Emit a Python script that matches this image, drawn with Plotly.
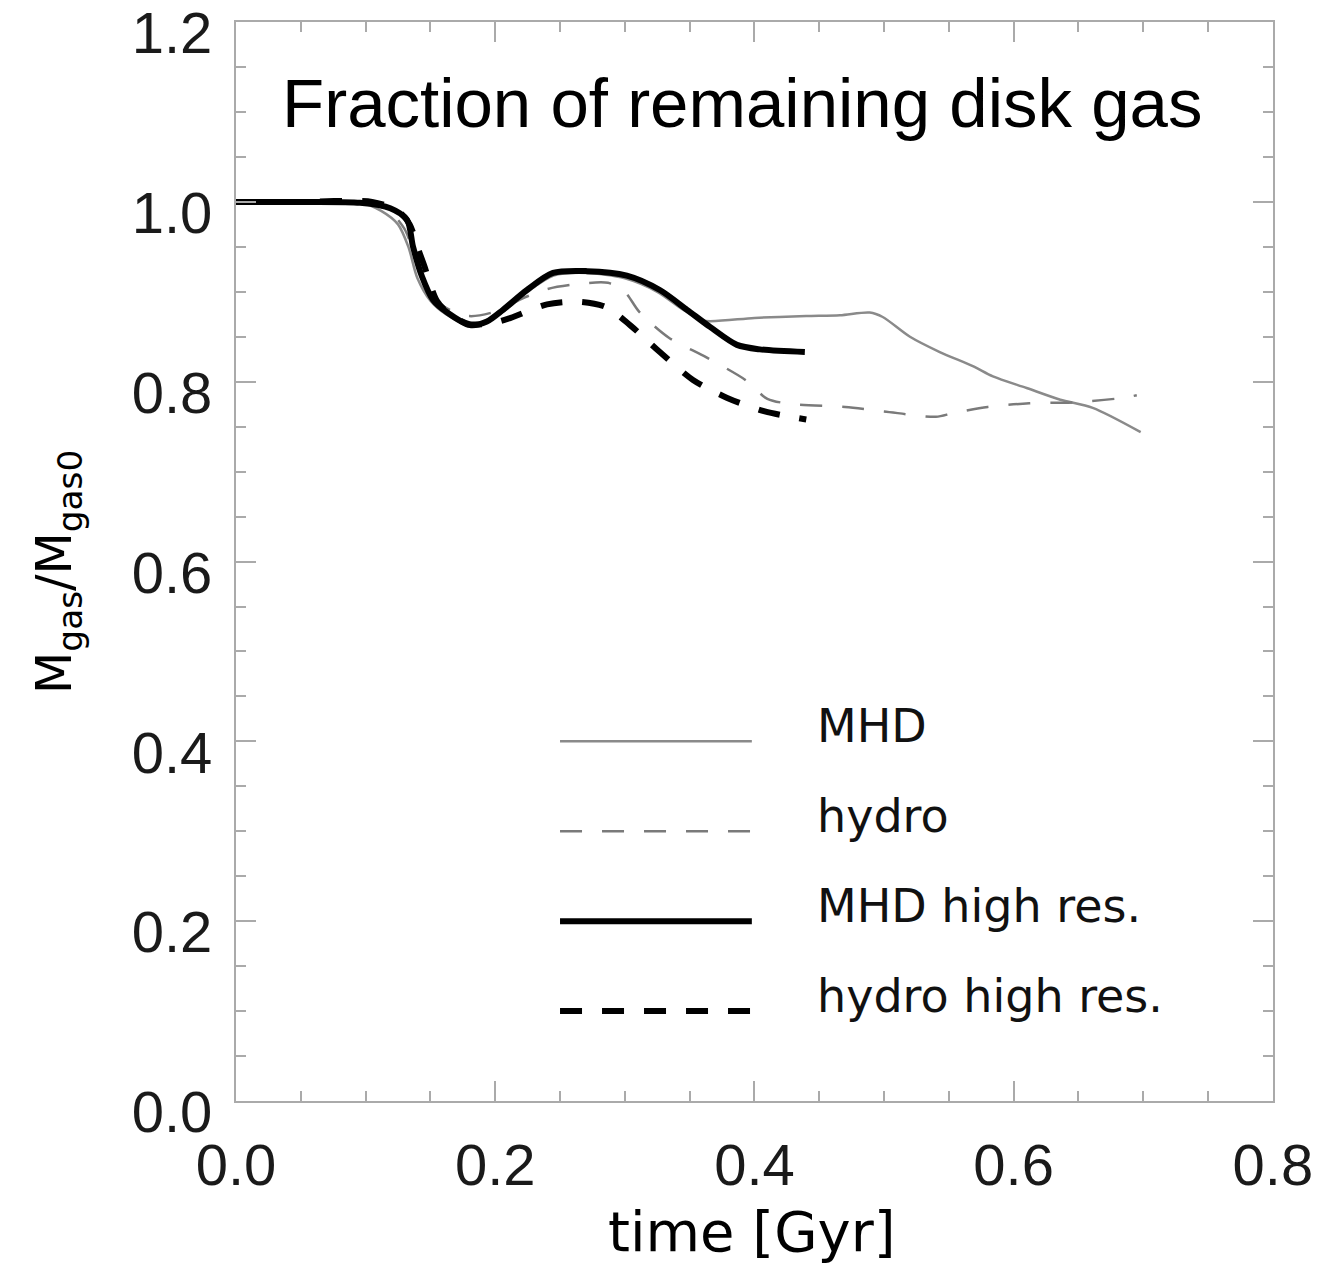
import plotly.graph_objects as go

# ---------------- data ----------------
mhd_t = [0.0, 0.05, 0.095, 0.112, 0.125, 0.133, 0.14, 0.15, 0.162, 0.18, 0.195, 0.21,
         0.225, 0.245, 0.27, 0.30, 0.325, 0.345, 0.36, 0.40, 0.44, 0.466, 0.489, 0.499,
         0.52, 0.543, 0.569, 0.584, 0.61, 0.636, 0.661, 0.698]
mhd_f = [1.0, 1.0, 1.0, 0.99, 0.975, 0.95, 0.915, 0.89, 0.875, 0.863, 0.868, 0.882,
         0.90, 0.918, 0.921, 0.915, 0.90, 0.88, 0.868, 0.871, 0.873, 0.874, 0.877, 0.872,
         0.85, 0.833, 0.817, 0.806, 0.793, 0.78, 0.771, 0.744]

hydro_t = [0.0, 0.05, 0.10, 0.118, 0.13, 0.138, 0.146, 0.155, 0.165, 0.18, 0.20, 0.22,
           0.24, 0.26, 0.287, 0.30, 0.311, 0.334, 0.363, 0.393, 0.41, 0.43, 0.47, 0.50,
           0.54, 0.553, 0.58, 0.612, 0.645, 0.684, 0.695]
hydro_f = [1.0, 1.0, 1.0, 0.99, 0.97, 0.94, 0.91, 0.89, 0.88, 0.873, 0.878, 0.892,
           0.903, 0.908, 0.91, 0.90, 0.878, 0.849, 0.827, 0.802, 0.781, 0.775, 0.772, 0.767,
           0.761, 0.765, 0.772, 0.776, 0.777, 0.782, 0.785]

mhd_hr_t = [0.0, 0.05, 0.0957, 0.119, 0.132, 0.1366, 0.1435, 0.152, 0.163, 0.1805, 0.1936,
            0.206, 0.2245, 0.2446, 0.2708, 0.3016, 0.327, 0.348, 0.3657, 0.3865, 0.4042, 0.4389]
mhd_hr_f = [1.0, 1.0, 0.999, 0.993, 0.98, 0.95, 0.917, 0.891, 0.877, 0.863, 0.867,
            0.88, 0.902, 0.921, 0.923, 0.918, 0.902, 0.88, 0.861, 0.841, 0.836, 0.833]

hydro_hr_t = [0.0, 0.05, 0.105, 0.125, 0.134, 0.14, 0.145, 0.155, 0.165, 0.18, 0.20, 0.212,
              0.24, 0.265, 0.2855, 0.304, 0.327, 0.3526, 0.379, 0.408, 0.44]
hydro_hr_f = [1.0, 1.0, 1.0, 0.99, 0.975, 0.95, 0.93, 0.89, 0.875, 0.864, 0.866, 0.871,
              0.886, 0.889, 0.883, 0.863, 0.833, 0.802, 0.782, 0.767, 0.758]

series_names = ["MHD", "hydro", "MHD high res.", "hydro high res."]
x_ticks = [0.0, 0.2, 0.4, 0.6, 0.8]
y_ticks = [0.0, 0.2, 0.4, 0.6, 0.8, 1.0, 1.2]
x_ticktext = ["0.0", "0.2", "0.4", "0.6", "0.8"]
y_ticktext = ["0.0", "0.2", "0.4", "0.6", "0.8", "1.0", "1.2"]

title_text = "Fraction of remaining disk gas"
x_title = "time [Gyr]"
y_title = "M<sub>gas</sub>/M<sub>gas0</sub>"

# ---------------- styles ----------------
styles = [
    dict(color="#8a8a8a", width=2.5, dash="solid"),
    dict(color="#7a7a7a", width=2.5, dash="22px,20px"),
    dict(color="#000000", width=6, dash="solid"),
    dict(color="#000000", width=6, dash="22px,20px"),
]
series = [(mhd_t, mhd_f), (hydro_t, hydro_f), (mhd_hr_t, mhd_hr_f), (hydro_hr_t, hydro_hr_f)]

fig = go.Figure()
for (t, f), name, st in zip(series, series_names, styles):
    fig.add_trace(go.Scatter(x=t, y=f, mode="lines", name=name,
                             line=dict(color=st["color"], width=st["width"], dash=st["dash"],
                                       shape="spline", smoothing=0.8),
                             showlegend=False))

# custom legend (long sample lines like the original)
leg_x0, leg_x1, leg_tx = 0.25, 0.398, 0.447
leg_ys = [0.4, 0.3, 0.2, 0.1]
for name, st, ly in zip(series_names, styles, leg_ys):
    fig.add_shape(type="line", xref="x", yref="y", x0=leg_x0, x1=leg_x1, y0=ly, y1=ly,
                  line=dict(color=st["color"], width=st["width"], dash=st["dash"]))
    fig.add_annotation(x=leg_tx, y=ly, xref="x", yref="y", text=name, showarrow=False,
                       xanchor="left", yanchor="middle", yshift=15,
                       font=dict(family="DejaVu Sans", size=46, color="#111"))

fig.add_annotation(x=0.488, y=1.11, xref="paper", yref="y", text=title_text, showarrow=False,
                   xanchor="center", yanchor="middle",
                   font=dict(family="Liberation Sans", size=69, color="black"))
fig.add_annotation(x=0.4976, y=-0.121, xref="paper", yref="paper", text=x_title, showarrow=False,
                   xanchor="center", yanchor="middle",
                   font=dict(family="DejaVu Sans", size=56, color="black"))
fig.add_annotation(x=-0.172, y=0.49, xref="paper", yref="paper", text=y_title, showarrow=False,
                   textangle=-90, xanchor="center", yanchor="middle",
                   font=dict(family="DejaVu Sans", size=49, color="black"))

axis_common = dict(showgrid=False, zeroline=False, showline=True, linecolor="#aaaaaa",
                   linewidth=2, mirror="allticks", ticks="inside", tickcolor="#aaaaaa",
                   tickwidth=2, ticklen=20, ticklabeloverflow="allow", automargin=False,
                   tickfont=dict(family="Liberation Sans", size=58, color="#1a1a1a"))

fig.update_xaxes(range=[0, 0.8001], tickmode="array", tickvals=x_ticks, ticktext=x_ticktext,
                 ticklabelstandoff=12,
                 minor=dict(ticks="inside", dtick=0.05, ticklen=10, tickcolor="#aaaaaa", tickwidth=2),
                 **axis_common)
fig.update_yaxes(range=[0, 1.2001], tickmode="array", tickvals=y_ticks, ticktext=y_ticktext,
                 ticklabelstandoff=10, ticklabelshift=11,
                 minor=dict(ticks="inside", dtick=0.05, ticklen=10, tickcolor="#aaaaaa", tickwidth=2),
                 **axis_common)

fig.update_layout(width=1327, height=1274, plot_bgcolor="white", paper_bgcolor="white",
                  margin=dict(l=236, r=54, t=22, b=173, autoexpand=False), showlegend=False)

fig.write_html("out.html")
